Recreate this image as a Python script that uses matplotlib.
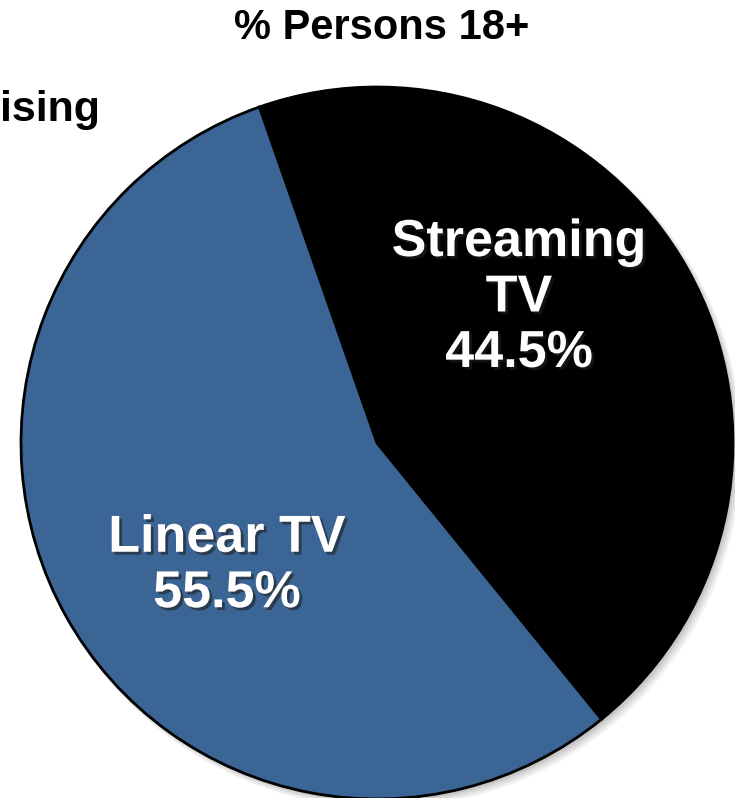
import matplotlib.pyplot as plt
import matplotlib.patheffects as pe
from matplotlib import font_manager

labels = ["Streaming\nTV", "Linear TV"]
shares = [44.5, 55.5]
colors = ["#000000", "#3B6595"]
title = "% Persons 18+"

names = {f.name for f in font_manager.fontManager.ttflist}
narrow = "Liberation Sans Narrow" if "Liberation Sans Narrow" in names else "Liberation Sans"

fig = plt.figure(figsize=(7.35, 7.98), dpi=100)
ax = fig.add_axes([0, 0, 1, 1])

cx, cy, r = 377, 355, 356

# soft shadow under the pie
for k, a in enumerate([0.05, 0.05, 0.06, 0.07]):
    ax.add_patch(plt.Circle((cx + 6 - k, cy - 6 + k), r + 3 - k, color="black", alpha=a, lw=0))

wedges, _ = ax.pie(shares, colors=colors, startangle=109.3, counterclock=False,
                   center=(cx, cy), radius=r, frame=True,
                   wedgeprops=dict(edgecolor="black", linewidth=2))
ax.set_xlim(0, 735)
ax.set_ylim(0, 798)
ax.set_aspect("equal")
ax.axis("off")

shadow = [pe.withSimplePatchShadow(offset=(2, -2), shadow_rgbFace="#202020", alpha=0.6)]
label_pos = [(519, 798 - 298), (227, 798 - 566)]
for lab, val, (x, y) in zip(labels, shares, label_pos):
    ax.text(x, y, f"{lab}\n{val}%", ha="center", va="center", color="white",
            fontsize=37.5, fontweight="bold", family="Liberation Sans",
            linespacing=1.17, path_effects=shadow)

fig.text(382 / 735, 1 - 28 / 798, title, ha="center", va="center",
         fontsize=30, fontweight="bold", family=narrow)
fig.text(100 / 735, 1 - 110 / 798, "ising", ha="right", va="center",
         fontsize=31, fontweight="bold", family=narrow)

plt.savefig("out.png", dpi=100)
